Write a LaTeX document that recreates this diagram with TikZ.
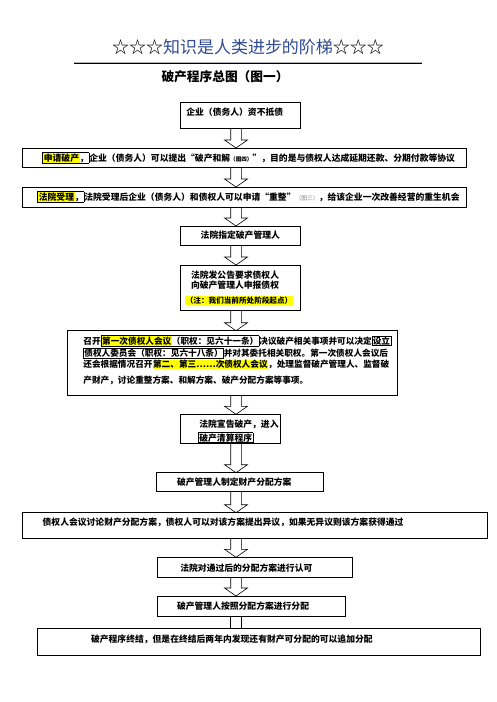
\documentclass[tikz,border=0pt]{standalone}
\usepackage{fontspec}
\setmainfont{Noto Sans CJK SC}
\newfontfamily\fwfont{Noto Sans CJK SC}[RawFeature={+fwid}]
\usetikzlibrary{calc}
\definecolor{hlyellow}{RGB}{255,255,0}
\definecolor{titleblue}{RGB}{46,74,146}
\newcommand{\setfs}[1]{\fontsize{#1}{#1}\selectfont}
\newcommand{\hlbox}[1]{{\setlength{\fboxsep}{0.5pt}\colorbox{hlyellow}{#1}}}
\newcommand{\frbox}[1]{{\setlength{\fboxsep}{0.4pt}\setlength{\fboxrule}{0.6pt}\fbox{#1}}}
\newcommand{\fw}[1]{{\fwfont #1}}

\tikzset{every picture/.style={line width=0.75pt}}

\begin{document}
\begin{tikzpicture}[x=1pt,y=1pt,yscale=-1,xscale=1,
	box/.style={draw, line width=0.9pt, anchor=north west, inner sep=0pt, outer sep=0pt},
	txt/.style={anchor=west, inner sep=0pt, font=\bfseries\setfs{8.8}},
	blockarr/.style={draw, line width=0.6pt}]
		\useasboundingbox (0,0) rectangle (496,702);
		\coordinate (col) at (236,0);

		% Text Node
		\node (title) at (248,47) {\setfs{17}☆☆☆\textcolor{titleblue}{知识是人类进步的阶梯}☆☆☆};
		%Straight Lines
		\draw [gray!60, line width=0.5pt] (74,62.2) -- (422,62.2) ;
		\draw [line width=0.9pt] (74,63.8) -- (422,63.8) ;
		% Text Node
		\node (subtitle) at (225,77) {\bfseries\setfs{12.7}破产程序总图（图一）};

		%Shape: Rectangle
		\node [box, minimum width=120.6pt, minimum height=26pt] (b1) at (180,102) {};
		\node [box, minimum width=444pt, minimum height=19pt] (b2) at (22,148) {};
		\node [box, minimum width=444pt, minimum height=20pt] (b3) at (22,187) {};
		\node [box, minimum width=120.6pt, minimum height=19pt] (b4) at (180,226) {};
		\node [box, minimum width=120pt, minimum height=45.7pt] (b5) at (180.7,265) {};
		\node [box, minimum width=330.7pt, minimum height=64.3pt] (b6) at (67,330.7) {};
		\node [box, minimum width=100pt, minimum height=29pt] (b7) at (180.7,414.3) {};
		\node [box, minimum width=167pt, minimum height=18.3pt] (b8) at (156,472.7) {};
		\node [box, minimum width=465.7pt, minimum height=25.6pt] (b9) at (22,512.7) {};
		\node [box, minimum width=195pt, minimum height=19.7pt] (b10) at (157.3,557.3) {};
		\node [box, minimum width=188.4pt, minimum height=20.7pt] (b11) at (157.3,596) {};
		\node [box, minimum width=443pt, minimum height=26.7pt] (b12) at (37.3,628.3) {};

		%Straight Lines
		\draw [blockarr] ($(col|-b1.south)+(-5.3,0)$) -- ($(col|-b2.north)+(-5.3,-8)$) -- ++(-6.2,0) -- (col|-b2.north) -- ($(col|-b2.north)+(11.5,-8)$) -- ++(-6.2,0) -- ($(col|-b1.south)+(5.3,0)$) ;
		%Straight Lines
		\draw [blockarr] ($(col|-b2.south)+(-5.3,0)$) -- ($(col|-b3.north)+(-5.3,-8)$) -- ++(-6.2,0) -- (col|-b3.north) -- ($(col|-b3.north)+(11.5,-8)$) -- ++(-6.2,0) -- ($(col|-b2.south)+(5.3,0)$) ;
		%Straight Lines
		\draw [blockarr] ($(col|-b3.south)+(-5.3,0)$) -- ($(col|-b4.north)+(-5.3,-8)$) -- ++(-6.2,0) -- (col|-b4.north) -- ($(col|-b4.north)+(11.5,-8)$) -- ++(-6.2,0) -- ($(col|-b3.south)+(5.3,0)$) ;
		%Straight Lines
		\draw [blockarr] ($(col|-b4.south)+(-5.3,0)$) -- ($(col|-b5.north)+(-5.3,-8)$) -- ++(-6.2,0) -- (col|-b5.north) -- ($(col|-b5.north)+(11.5,-8)$) -- ++(-6.2,0) -- ($(col|-b4.south)+(5.3,0)$) ;
		%Straight Lines
		\draw [blockarr] ($(col|-b5.south)+(-5.3,0)$) -- ($(col|-b6.north)+(-5.3,-8)$) -- ++(-6.2,0) -- (col|-b6.north) -- ($(col|-b6.north)+(11.5,-8)$) -- ++(-6.2,0) -- ($(col|-b5.south)+(5.3,0)$) ;
		%Straight Lines
		\draw [blockarr] ($(col|-b6.south)+(-5.3,0)$) -- ($(col|-b7.north)+(-5.3,-8)$) -- ++(-6.2,0) -- (col|-b7.north) -- ($(col|-b7.north)+(11.5,-8)$) -- ++(-6.2,0) -- ($(col|-b6.south)+(5.3,0)$) ;
		%Straight Lines
		\draw [blockarr] ($(col|-b7.south)+(-5.3,0)$) -- ($(col|-b8.north)+(-5.3,-8)$) -- ++(-6.2,0) -- (col|-b8.north) -- ($(col|-b8.north)+(11.5,-8)$) -- ++(-6.2,0) -- ($(col|-b7.south)+(5.3,0)$) ;
		%Straight Lines
		\draw [blockarr] ($(col|-b8.south)+(-5.3,0)$) -- ($(col|-b9.north)+(-5.3,-8)$) -- ++(-6.2,0) -- (col|-b9.north) -- ($(col|-b9.north)+(11.5,-8)$) -- ++(-6.2,0) -- ($(col|-b8.south)+(5.3,0)$) ;
		%Straight Lines
		\draw [blockarr] ($(col|-b9.south)+(-5.3,0)$) -- ($(col|-b10.north)+(-5.3,-8)$) -- ++(-6.2,0) -- (col|-b10.north) -- ($(col|-b10.north)+(11.5,-8)$) -- ++(-6.2,0) -- ($(col|-b9.south)+(5.3,0)$) ;
		%Straight Lines
		\draw [blockarr] ($(col|-b10.south)+(-5.3,0)$) -- ($(col|-b11.north)+(-5.3,-8)$) -- ++(-6.2,0) -- (col|-b11.north) -- ($(col|-b11.north)+(11.5,-8)$) -- ++(-6.2,0) -- ($(col|-b10.south)+(5.3,0)$) ;
		%Straight Lines
		\draw [blockarr] ($(col|-b11.south)+(-5.3,0)$) -- ($(col|-b12.north)+(-5.3,0)$) ;
		\draw [blockarr] ($(col|-b11.south)+(5.3,0)$) -- ($(col|-b12.north)+(5.3,0)$) ;

		% Text Node
		\node [txt] (t1) at (186,112) {企业（债务人）资不抵债};
		% Text Node
		\node [txt] (t2) at (42,158) {\frbox{\hlbox{申请破产}，}企业（债务人）可以提出\fw{“}破产和解{\setfs{5.6}（图四）}\fw{”}，目的是与债权人达成延期还款、分期付款等协议};
		% Text Node
		\node [txt] (t3) at (37,197) {\frbox{\hlbox{法院受理}，}法院受理后企业（债务人）和债权人可以申请\fw{“}重整\fw{”}{\mdseries\color{gray}\setfs{5.8}（图三）}，给该企业一次改善经营的重生机会};
		% Text Node
		\node [anchor=center, inner sep=0pt, font=\bfseries\setfs{8.8}] (t4) at (b4.center) {法院指定破产管理人};
		% Text Node
		\node [txt] (t5a) at (190.7,275) {法院发公告要求债权人};
		\node [txt] (t5b) at (190.7,284.7) {向破产管理人申报债权};
		\node [txt, font=\bfseries\setfs{7.6}] (t5c) at (185,300.7) {\hlbox{（注：我们当前所处阶段起点）}};
		% Text Node
		\node [txt, font=\bfseries\setfs{8.65}] (t6a) at (83,341) {召开\frbox{\hlbox{第一次债权人会议}（职权：见六十一条）}决议破产相关事项并可以决定\frbox{设立}};
		\node [txt, font=\bfseries\setfs{8.65}] (t6b) at (83,353) {\frbox{债权人委员会（职权：见六十八条）}并对其委托相关职权。第一次债权人会议后};
		\node [txt, font=\bfseries\setfs{8.65}] (t6c) at (83,364.5) {还会根据情况召开\hlbox{第二、第三\fw{……}次债权人会议}，处理监督破产管理人、监督破};
		\node [txt, font=\bfseries\setfs{8.65}] (t6d) at (83,380.5) {产财产，讨论重整方案、和解方案、破产分配方案等事项。};
		% Text Node
		\node [txt] (t7a) at (199,424.3) {法院宣告破产，进入};
		\node [txt] (t7b) at (198,437.7) {\frbox{破产清算程序}};
		% Text Node
		\node [txt] (t8) at (176.7,482) {破产管理人制定财产分配方案};
		% Text Node
		\node [txt] (t9) at (42.3,522.7) {债权人会议讨论财产分配方案，债权人可以对该方案提出异议，如果无异议则该方案获得通过};
		% Text Node
		\node [txt] (t10) at (180,567.7) {法院对通过后的分配方案进行认可};
		% Text Node
		\node [txt] (t11) at (176.7,606.3) {破产管理人按照分配方案进行分配};
		% Text Node
		\node [txt] (t12) at (90.7,639.7) {破产程序终结，但是在终结后两年内发现还有财产可分配的可以追加分配};

\end{tikzpicture}
\end{document}
